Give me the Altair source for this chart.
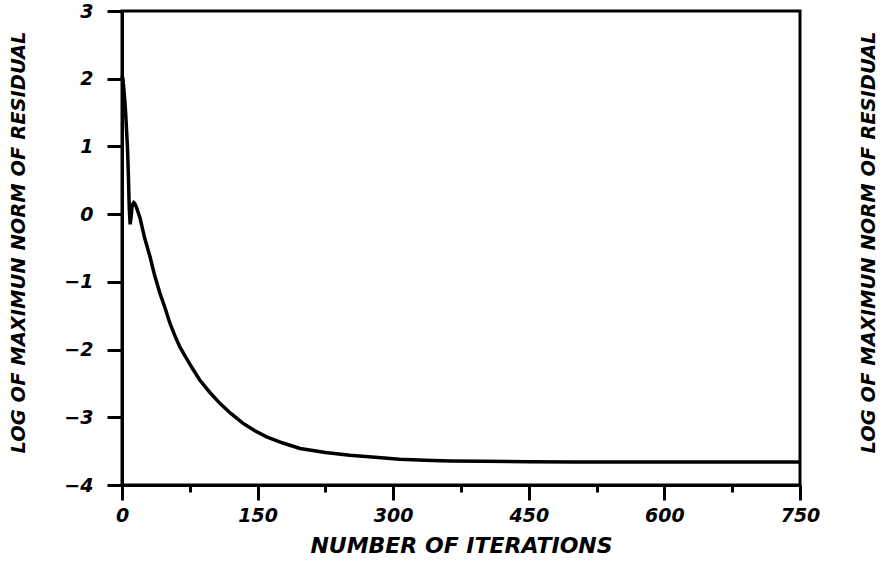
import altair as alt
import pandas as pd

iterations = [0, 1, 2, 3, 4, 5, 6, 7, 8, 9, 10, 11, 12, 13, 14, 16, 18, 20, 25, 31,
              36, 42, 48, 53, 58, 64, 70, 78, 86, 97, 108, 120, 134, 147, 160, 178,
              197, 225, 252, 280, 307, 335, 363, 400, 450, 500, 550, 600, 650, 700, 750]
log_residual = [2.05, 2.0, 1.85, 1.7, 1.5, 1.25, 1.0, 0.6, 0.1, -0.15, -0.05, 0.1, 0.15,
                0.17, 0.16, 0.1, 0.02, -0.06, -0.35, -0.63, -0.9, -1.17, -1.4, -1.61,
                -1.78, -1.96, -2.1, -2.28, -2.45, -2.63, -2.79, -2.94, -3.09, -3.2, -3.29,
                -3.38, -3.46, -3.52, -3.56, -3.59, -3.62, -3.635, -3.645, -3.65, -3.655,
                -3.66, -3.66, -3.66, -3.66, -3.66, -3.66]

x_ticks = [0, 75, 150, 225, 300, 375, 450, 525, 600, 675, 750]
y_ticks = [-4, -3.5, -3, -2.5, -2, -1.5, -1, -0.5, 0, 0.5, 1, 1.5, 2, 2.5, 3]

x_title = "NUMBER OF ITERATIONS"
y_title = "LOG OF MAXIMUN NORM OF RESIDUAL"

df = pd.DataFrame({"it": iterations, "res": log_residual})

FONT = "DejaVu Sans"

x_scale = alt.Scale(domain=[0, 750], nice=False, zero=False)
y_scale = alt.Scale(domain=[-4, 3], nice=False, zero=False)

x_axis = alt.Axis(
    values=x_ticks, format="d",
    labelExpr="datum.value % 150 === 0 ? datum.label : ''",
    tickSize={"condition": {"test": "datum.value % 150 !== 0", "value": 7}, "value": 15},
    tickWidth=3, tickColor="black",
    domainWidth=3, domainColor="black",
    labelFont=FONT, labelFontSize=19, labelFontWeight="bold", labelFontStyle="italic",
    labelColor="black", labelPadding=6, labelFlush=False,
    title=x_title, titleFont=FONT, titleFontSize=22, titleFontWeight="bold",
    titleFontStyle="italic", titleColor="black",
    titleX=339, titleY=60, titleAlign="center", titleBaseline="middle",
    grid=False,
)

y_axis = alt.Axis(
    values=y_ticks, format="d",
    labelExpr="datum.value % 1 === 0 ? datum.label : ''",
    tickSize={"condition": {"test": "datum.value % 1 !== 0", "value": 7}, "value": 15},
    tickWidth=3, tickColor="black",
    domainWidth=3, domainColor="black",
    labelFont=FONT, labelFontSize=19, labelFontWeight="bold", labelFontStyle="italic",
    labelColor="black", labelPadding=14, labelFlush=False,
    title=y_title, titleFont=FONT, titleFontSize=19.5, titleFontWeight="bold",
    titleFontStyle="italic", titleColor="black", titleAngle=270,
    titleX=-104, titleY=231, titleAlign="center", titleBaseline="middle",
    grid=False,
)

y_axis_right = alt.Axis(
    orient="right", domain=False, ticks=False, labels=False, grid=False,
    title=y_title, titleFont=FONT, titleFontSize=19.5, titleFontWeight="bold",
    titleFontStyle="italic", titleColor="black", titleAngle=270,
    titleX=68, titleY=231, titleAlign="center", titleBaseline="middle",
)

line = alt.Chart(df).mark_line(color="black", strokeWidth=3.5).encode(
    x=alt.X("it:Q", scale=x_scale, axis=x_axis),
    y=alt.Y("res:Q", scale=y_scale, axis=y_axis),
)

ghost = alt.Chart(df).mark_line(opacity=0).encode(
    x=alt.X("it:Q", scale=x_scale, axis=x_axis),
    y=alt.Y("res:Q", scale=y_scale, axis=y_axis_right),
)

chart = alt.layer(line, ghost).resolve_scale(y="independent").properties(
    width=678, height=474,
    autosize=alt.AutoSizeParams(type="none"),
    padding={"left": 122, "top": 11, "right": 89, "bottom": 78},
    background="white",
).configure_view(stroke="black", strokeWidth=3)

chart.save("out.html", embed_options={"renderer": "svg", "actions": False})
